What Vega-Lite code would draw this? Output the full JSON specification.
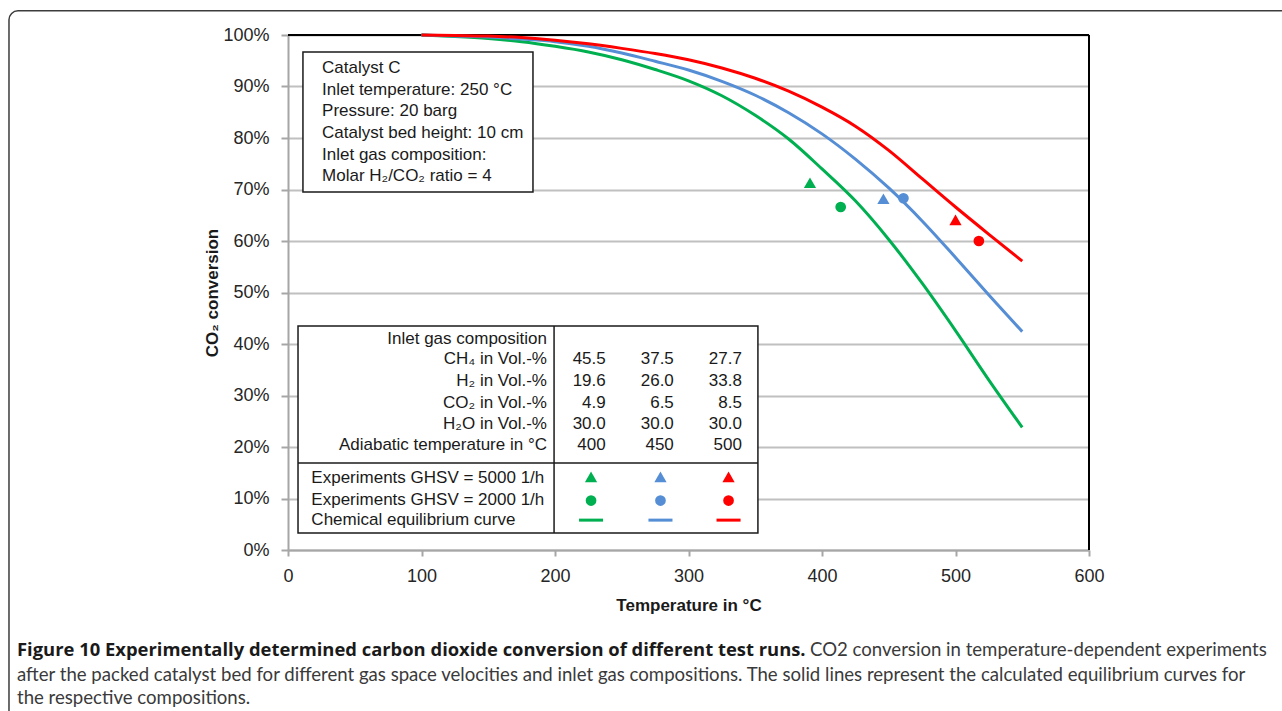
{
  "$schema": "https://vega.github.io/schema/vega-lite/v6.json",
  "width": 801,
  "height": 515,
  "autosize": {"type": "none"},
  "padding": {"left": 288, "top": 35, "right": 193, "bottom": 161},
  "background": "white",
  "config": {"view": {"stroke": null}, "font": "Liberation Sans"},
  "datasets": {
    "frame": [{"T": -209, "T2": 800, "C": 104.7, "C2": -40}],
    "borders": [
      {"T": 0, "T2": 600, "C": 100, "C2": 100},
      {"T": 600, "T2": 600, "C": 0, "C2": 100}
    ],
    "box1": [{"T": 11.2, "T2": 183.5, "C": 96.7, "C2": 69.5}],
    "box1text": [
      {"T": 25.5, "C": 93.6, "text": "Catalyst C"},
      {"T": 25.5, "C": 89.3, "text": "Inlet temperature: 250 °C"},
      {"T": 25.5, "C": 85.2, "text": "Pressure: 20 barg"},
      {"T": 25.5, "C": 81.0, "text": "Catalyst bed height: 10 cm"},
      {"T": 25.5, "C": 76.7, "text": "Inlet gas composition:"},
      {"T": 25.5, "C": 72.6, "text": "Molar H₂/CO₂ ratio = 4"}
    ],
    "tablebox": [{"T": 7.5, "T2": 352, "C": 43.5, "C2": 3.3}],
    "tablelines": [
      {"T": 7.5, "T2": 352, "C": 16.9, "C2": 16.9},
      {"T": 199.3, "T2": 199.3, "C": 3.3, "C2": 43.5}
    ],
    "tablelabels": [
      {"T": 194, "C": 41.0, "text": "Inlet gas composition"},
      {"T": 194, "C": 37.0, "text": "CH₄ in Vol.-%"},
      {"T": 194, "C": 32.8, "text": "H₂ in Vol.-%"},
      {"T": 194, "C": 28.6, "text": "CO₂ in Vol.-%"},
      {"T": 194, "C": 24.5, "text": "H₂O in Vol.-%"},
      {"T": 194, "C": 20.4, "text": "Adiabatic temperature in °C"}
    ],
    "tablevalues": [
      {"T": 238, "C": 37.0, "text": "45.5"},
      {"T": 289, "C": 37.0, "text": "37.5"},
      {"T": 340, "C": 37.0, "text": "27.7"},
      {"T": 238, "C": 32.8, "text": "19.6"},
      {"T": 289, "C": 32.8, "text": "26.0"},
      {"T": 340, "C": 32.8, "text": "33.8"},
      {"T": 238, "C": 28.6, "text": "4.9"},
      {"T": 289, "C": 28.6, "text": "6.5"},
      {"T": 340, "C": 28.6, "text": "8.5"},
      {"T": 238, "C": 24.5, "text": "30.0"},
      {"T": 289, "C": 24.5, "text": "30.0"},
      {"T": 340, "C": 24.5, "text": "30.0"},
      {"T": 238, "C": 20.4, "text": "400"},
      {"T": 289, "C": 20.4, "text": "450"},
      {"T": 340, "C": 20.4, "text": "500"}
    ],
    "tablelegendlabels": [
      {"T": 17.5, "C": 14.0, "text": "Experiments GHSV = 5000 1/h"},
      {"T": 17.5, "C": 9.8, "text": "Experiments GHSV = 2000 1/h"},
      {"T": 17.5, "C": 5.8, "text": "Chemical equilibrium curve"}
    ],
    "tablelegendlines": [
      {"T": 218, "T2": 236, "C": 5.8, "C2": 5.8, "s": "400"},
      {"T": 270, "T2": 288, "C": 5.8, "C2": 5.8, "s": "450"},
      {"T": 321, "T2": 339, "C": 5.8, "C2": 5.8, "s": "500"}
    ],
    "tablemarkers": [
      {"T": 227, "C": 14.2, "s": "400", "g": "5000"},
      {"T": 279, "C": 14.2, "s": "450", "g": "5000"},
      {"T": 330, "C": 14.2, "s": "500", "g": "5000"},
      {"T": 227, "C": 9.6, "s": "400", "g": "2000"},
      {"T": 279, "C": 9.6, "s": "450", "g": "2000"},
      {"T": 330, "C": 9.6, "s": "500", "g": "2000"}
    ],
    "curves": [
      {"s": "400", "T": 100, "C": 100}, {"s": "400", "T": 125, "C": 99.7}, {"s": "400", "T": 150, "C": 99.3},
      {"s": "400", "T": 175, "C": 98.7}, {"s": "400", "T": 200, "C": 97.8}, {"s": "400", "T": 225, "C": 96.7},
      {"s": "400", "T": 250, "C": 95.2}, {"s": "400", "T": 275, "C": 93.3}, {"s": "400", "T": 300, "C": 91.1},
      {"s": "400", "T": 325, "C": 88.2}, {"s": "400", "T": 350, "C": 84.4}, {"s": "400", "T": 375, "C": 79.8},
      {"s": "400", "T": 400, "C": 74.0}, {"s": "400", "T": 425, "C": 67.8}, {"s": "400", "T": 450, "C": 60.3},
      {"s": "400", "T": 475, "C": 51.8}, {"s": "400", "T": 500, "C": 42.6}, {"s": "400", "T": 525, "C": 33.0},
      {"s": "400", "T": 550, "C": 23.8},
      {"s": "450", "T": 100, "C": 100}, {"s": "450", "T": 125, "C": 99.8}, {"s": "450", "T": 150, "C": 99.6},
      {"s": "450", "T": 175, "C": 99.2}, {"s": "450", "T": 200, "C": 98.7}, {"s": "450", "T": 225, "C": 97.8},
      {"s": "450", "T": 250, "C": 96.5}, {"s": "450", "T": 275, "C": 94.9}, {"s": "450", "T": 300, "C": 93.2},
      {"s": "450", "T": 325, "C": 91.0}, {"s": "450", "T": 350, "C": 88.3}, {"s": "450", "T": 375, "C": 84.9},
      {"s": "450", "T": 400, "C": 80.8}, {"s": "450", "T": 425, "C": 75.9}, {"s": "450", "T": 450, "C": 70.3},
      {"s": "450", "T": 475, "C": 63.9}, {"s": "450", "T": 500, "C": 56.8}, {"s": "450", "T": 525, "C": 49.5},
      {"s": "450", "T": 550, "C": 42.4},
      {"s": "500", "T": 100, "C": 100}, {"s": "500", "T": 125, "C": 99.9}, {"s": "500", "T": 150, "C": 99.8},
      {"s": "500", "T": 175, "C": 99.5}, {"s": "500", "T": 200, "C": 99.0}, {"s": "500", "T": 225, "C": 98.3},
      {"s": "500", "T": 250, "C": 97.4}, {"s": "500", "T": 275, "C": 96.4}, {"s": "500", "T": 300, "C": 95.2},
      {"s": "500", "T": 325, "C": 93.6}, {"s": "500", "T": 350, "C": 91.6}, {"s": "500", "T": 375, "C": 89.1},
      {"s": "500", "T": 400, "C": 86.0}, {"s": "500", "T": 425, "C": 82.3}, {"s": "500", "T": 450, "C": 77.6},
      {"s": "500", "T": 475, "C": 72.1}, {"s": "500", "T": 500, "C": 66.6}, {"s": "500", "T": 525, "C": 61.3},
      {"s": "500", "T": 550, "C": 56.1}
    ],
    "experiments": [
      {"T": 391, "C": 71.3, "s": "400", "g": "5000"},
      {"T": 414, "C": 66.6, "s": "400", "g": "2000"},
      {"T": 446, "C": 68.2, "s": "450", "g": "5000"},
      {"T": 461, "C": 68.3, "s": "450", "g": "2000"},
      {"T": 500, "C": 64.1, "s": "500", "g": "5000"},
      {"T": 517.5, "C": 60.0, "s": "500", "g": "2000"}
    ],
    "captionbold": [
      {"T": -203, "C": -19.4, "text": "Figure 10 Experimentally determined carbon dioxide conversion of different test runs."}
    ],
    "captionregular": [
      {"T": 391, "C": -19.4, "text": "CO2 conversion in temperature-dependent experiments"},
      {"T": -203, "C": -24.3, "text": "after the packed catalyst bed for different gas space velocities and inlet gas compositions. The solid lines represent the calculated equilibrium curves for"},
      {"T": -203, "C": -28.7, "text": "the respective compositions."}
    ]
  },
  "encoding": {
    "x": {
      "field": "T", "type": "quantitative",
      "scale": {"domain": [0, 600], "nice": false, "zero": false},
      "axis": {
        "values": [0, 100, 200, 300, 400, 500, 600], "grid": false, "labelFlush": false,
        "title": "Temperature in °C", "titleFont": "Liberation Sans", "titleFontSize": 17, "titleFontWeight": "bold",
        "titleColor": "#1a1a1a", "titlePadding": 12,
        "labelFont": "Liberation Sans", "labelFontSize": 18, "labelColor": "#262626", "labelPadding": 11,
        "domainColor": "#A6A6A6", "domainWidth": 2, "tickColor": "#A6A6A6", "tickWidth": 2, "tickSize": 6
      }
    },
    "y": {
      "field": "C", "type": "quantitative",
      "scale": {"domain": [0, 100], "nice": false, "zero": false},
      "axis": {
        "values": [0, 10, 20, 30, 40, 50, 60, 70, 80, 90, 100], "grid": true, "labelFlush": false,
        "gridColor": "#C0C0C0", "gridWidth": 2,
        "labelExpr": "datum.value + '%'",
        "title": "CO₂ conversion", "titleFont": "Liberation Sans", "titleFontSize": 17, "titleFontWeight": "bold",
        "titleColor": "#1a1a1a", "titlePadding": 1,
        "labelFont": "Liberation Sans", "labelFontSize": 18, "labelColor": "#262626", "labelPadding": 12,
        "domainColor": "#A6A6A6", "domainWidth": 2, "tickColor": "#A6A6A6", "tickWidth": 2, "tickSize": 7
      }
    }
  },
  "layer": [
    {
      "data": {"name": "frame"},
      "mark": {"type": "rect", "filled": false, "stroke": "#3c3c3c", "strokeWidth": 1.5, "cornerRadius": 9},
      "encoding": {"x2": {"field": "T2"}, "y2": {"field": "C2"}}
    },
    {
      "data": {"name": "borders"},
      "mark": {"type": "rule", "color": "black", "strokeWidth": 2},
      "encoding": {"x2": {"field": "T2"}, "y2": {"field": "C2"}}
    },
    {
      "data": {"name": "box1"},
      "mark": {"type": "rect", "fill": "white", "stroke": "#1a1a1a", "strokeWidth": 1.5},
      "encoding": {"x2": {"field": "T2"}, "y2": {"field": "C2"}}
    },
    {
      "data": {"name": "box1text"},
      "mark": {"type": "text", "align": "left", "baseline": "middle", "fontSize": 17, "color": "#1a1a1a", "font": "Liberation Sans"},
      "encoding": {"text": {"field": "text"}}
    },
    {
      "data": {"name": "tablebox"},
      "mark": {"type": "rect", "fill": "white", "stroke": "#1a1a1a", "strokeWidth": 1.5},
      "encoding": {"x2": {"field": "T2"}, "y2": {"field": "C2"}}
    },
    {
      "data": {"name": "tablelines"},
      "mark": {"type": "rule", "color": "#1a1a1a", "strokeWidth": 1.5},
      "encoding": {"x2": {"field": "T2"}, "y2": {"field": "C2"}}
    },
    {
      "data": {"name": "tablelabels"},
      "mark": {"type": "text", "align": "right", "baseline": "middle", "fontSize": 17, "color": "#1a1a1a", "font": "Liberation Sans"},
      "encoding": {"text": {"field": "text"}}
    },
    {
      "data": {"name": "tablevalues"},
      "mark": {"type": "text", "align": "right", "baseline": "middle", "fontSize": 17, "color": "#1a1a1a", "font": "Liberation Sans"},
      "encoding": {"text": {"field": "text"}}
    },
    {
      "data": {"name": "tablelegendlabels"},
      "mark": {"type": "text", "align": "left", "baseline": "middle", "fontSize": 17, "color": "#1a1a1a", "font": "Liberation Sans"},
      "encoding": {"text": {"field": "text"}}
    },
    {
      "data": {"name": "tablelegendlines"},
      "mark": {"type": "rule", "strokeWidth": 3},
      "encoding": {
        "x2": {"field": "T2"}, "y2": {"field": "C2"},
        "color": {"field": "s", "type": "nominal", "scale": {"domain": ["400", "450", "500"], "range": ["#00B050", "#558ED5", "#FF0000"]}, "legend": null}
      }
    },
    {
      "data": {"name": "tablemarkers"},
      "mark": {"type": "point", "filled": true, "opacity": 1},
      "encoding": {
        "color": {"field": "s", "type": "nominal", "scale": {"domain": ["400", "450", "500"], "range": ["#00B050", "#558ED5", "#FF0000"]}, "legend": null},
        "shape": {"field": "g", "type": "nominal", "scale": {"domain": ["5000", "2000"], "range": ["triangle-up", "circle"]}, "legend": null},
        "size": {"field": "g", "type": "ordinal", "scale": {"domain": ["5000", "2000"], "range": [150, 115]}, "legend": null}
      }
    },
    {
      "data": {"name": "curves"},
      "mark": {"type": "line", "strokeWidth": 3, "interpolate": "monotone"},
      "encoding": {
        "color": {"field": "s", "type": "nominal", "scale": {"domain": ["400", "450", "500"], "range": ["#00B050", "#558ED5", "#FF0000"]}, "legend": null}
      }
    },
    {
      "data": {"name": "experiments"},
      "mark": {"type": "point", "filled": true, "opacity": 1},
      "encoding": {
        "color": {"field": "s", "type": "nominal", "scale": {"domain": ["400", "450", "500"], "range": ["#00B050", "#558ED5", "#FF0000"]}, "legend": null},
        "shape": {"field": "g", "type": "nominal", "scale": {"domain": ["5000", "2000"], "range": ["triangle-up", "circle"]}, "legend": null},
        "size": {"field": "g", "type": "ordinal", "scale": {"domain": ["5000", "2000"], "range": [150, 115]}, "legend": null}
      }
    },
    {
      "data": {"name": "captionbold"},
      "mark": {"type": "text", "align": "left", "baseline": "middle", "fontSize": 18.4, "fontWeight": "bold", "color": "#1a1a1a", "font": "Open Sans"},
      "encoding": {"text": {"field": "text"}}
    },
    {
      "data": {"name": "captionregular"},
      "mark": {"type": "text", "align": "left", "baseline": "middle", "fontSize": 18.6, "color": "#3a3a3a", "font": "Lato"},
      "encoding": {"text": {"field": "text"}}
    }
  ]
}
